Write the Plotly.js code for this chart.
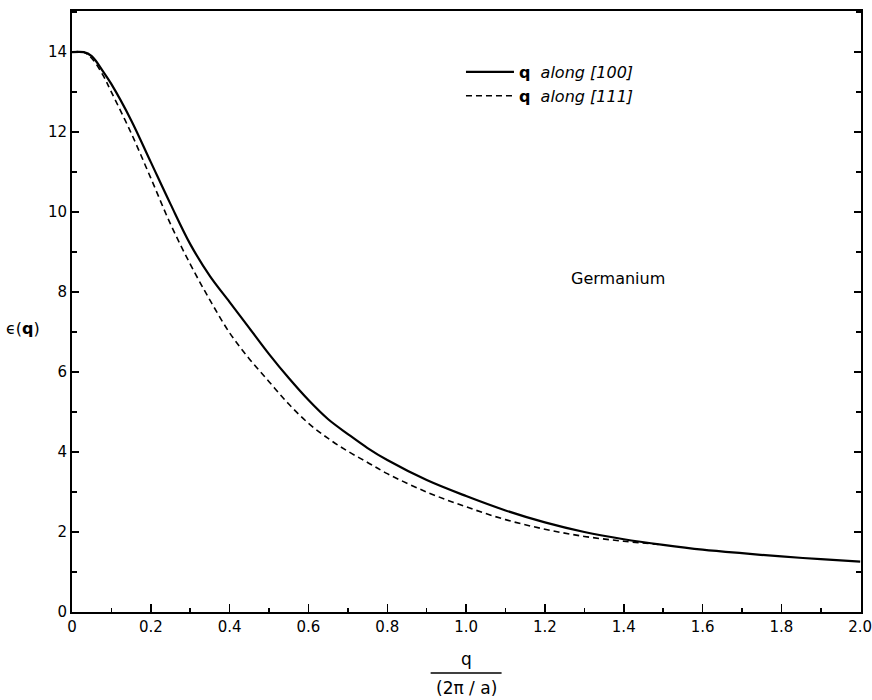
<!DOCTYPE html>
<html>
<head>
<meta charset="utf-8">
<script src="https://cdn.plot.ly/plotly-3.0.1.min.js"></script>
<style>html,body{margin:0;padding:0;background:#fff;}#chart{width:872px;height:700px;}</style>
</head>
<body>
<div id="chart"></div>
<script>
// q along [100] (solid)
var q100 = [0, 0.03, 0.05, 0.08, 0.1, 0.15, 0.2, 0.25, 0.3, 0.35, 0.4, 0.45, 0.5, 0.55, 0.6, 0.65, 0.7, 0.75, 0.8, 0.9, 1.0, 1.1, 1.2, 1.3, 1.4, 1.5, 1.6, 1.7, 1.8, 1.9, 2.0];
var eps100 = [14.0, 14.0, 13.9, 13.5, 13.2, 12.3, 11.25, 10.2, 9.2, 8.4, 7.75, 7.1, 6.45, 5.85, 5.3, 4.82, 4.45, 4.1, 3.8, 3.30, 2.90, 2.54, 2.24, 2.0, 1.82, 1.68, 1.56, 1.47, 1.39, 1.32, 1.26];
// q along [111] (dashed)
var q111 = [0, 0.03, 0.05, 0.08, 0.1, 0.15, 0.2, 0.25, 0.3, 0.35, 0.4, 0.45, 0.5, 0.55, 0.6, 0.65, 0.7, 0.75, 0.8, 0.9, 1.0, 1.1, 1.2, 1.3, 1.4, 1.5];
var eps111 = [14.0, 14.0, 13.85, 13.4, 13.0, 11.98, 10.85, 9.7, 8.7, 7.8, 6.98, 6.33, 5.76, 5.2, 4.72, 4.34, 4.02, 3.74, 3.46, 3.0, 2.63, 2.31, 2.07, 1.89, 1.77, 1.68];

var names = ['<b>q</b>  <i>along [100]</i>', '<b>q</b>  <i>along [111]</i>'];
var xTickVals = [0, 0.2, 0.4, 0.6, 0.8, 1.0, 1.2, 1.4, 1.6, 1.8, 2.0];
var xTickText = ['0', '0.2', '0.4', '0.6', '0.8', '1.0', '1.2', '1.4', '1.6', '1.8', '2.0'];
var yTickVals = [0, 2, 4, 6, 8, 10, 12, 14];

var FONT = 'DejaVu Sans, Liberation Sans, sans-serif';

var traces = [
  {x: q100, y: eps100, name: names[0], type: 'scatter', mode: 'lines',
   line: {color: '#000', width: 2.2, shape: 'spline', smoothing: 1}},
  {x: q111, y: eps111, name: names[1], type: 'scatter', mode: 'lines',
   line: {color: '#000', width: 1.6, dash: '6px,4px', shape: 'spline', smoothing: 1}}
];

var plotTop = 11, plotH = 700 - 11 - 88;
function pyToPaper(py) { return (plotTop + plotH - py) / plotH; }

var layout = {
  width: 872, height: 700,
  margin: {l: 72, r: 11, t: 11, b: 88},
  paper_bgcolor: '#fff', plot_bgcolor: '#fff',
  font: {family: FONT, color: '#000', size: 14},
  showlegend: true,
  legend: {x: 0.493, y: pyToPaper(55), xanchor: 'left', yanchor: 'top',
           bgcolor: 'rgba(0,0,0,0)', font: {family: FONT, size: 16, color: '#000'},
           itemwidth: 48, tracegroupgap: 0},
  xaxis: {range: [0, 2.002], showgrid: false, zeroline: false,
          showline: true, linecolor: '#000', linewidth: 2, mirror: true,
          ticks: 'inside', ticklen: 8, tickwidth: 1.5, tickcolor: '#000',
          tickvals: xTickVals, ticktext: xTickText, ticklabeloverflow: 'allow',
          tickfont: {family: FONT, size: 15, color: '#000'},
          minor: {ticks: 'inside', dtick: 0.1, ticklen: 4, tickwidth: 1.5, tickcolor: '#000', showgrid: false}},
  yaxis: {range: [0, 15.03], showgrid: false, zeroline: false,
          showline: true, linecolor: '#000', linewidth: 2, mirror: 'ticks',
          ticks: 'inside', ticklen: 7, tickwidth: 1.5, tickcolor: '#000',
          tickvals: yTickVals,
          tickfont: {family: FONT, size: 15, color: '#000'},
          minor: {ticks: 'inside', dtick: 1, ticklen: 5, tickwidth: 1.5, tickcolor: '#000', showgrid: false}},
  annotations: [
    {text: 'Germanium', x: 1.386, y: 8.35, xref: 'x', yref: 'y', showarrow: false,
     font: {family: FONT, size: 16, color: '#000'}},
    {text: '\u03f5(<b>q</b>)', x: -0.062, y: pyToPaper(328), xref: 'paper', yref: 'paper', showarrow: false,
     xanchor: 'center', yanchor: 'middle',
     font: {family: FONT, size: 16, color: '#000'}},
    {text: 'q', x: 1.0, y: pyToPaper(659), xref: 'x', yref: 'paper', showarrow: false,
     xanchor: 'center', yanchor: 'middle',
     font: {family: FONT, size: 17, color: '#000'}},
    {text: '(2\u03c0 / a)', x: 1.0, y: pyToPaper(688), xref: 'x', yref: 'paper', showarrow: false,
     xanchor: 'center', yanchor: 'middle',
     font: {family: FONT, size: 17, color: '#000'}}
  ],
  shapes: [
    {type: 'line', xref: 'x', yref: 'paper', x0: 0.91, x1: 1.09, y0: pyToPaper(673), y1: pyToPaper(673),
     line: {color: '#000', width: 1.5}}
  ]
};

Plotly.newPlot('chart', traces, layout, {displayModeBar: false, staticPlot: true});
</script>
</body>
</html>
